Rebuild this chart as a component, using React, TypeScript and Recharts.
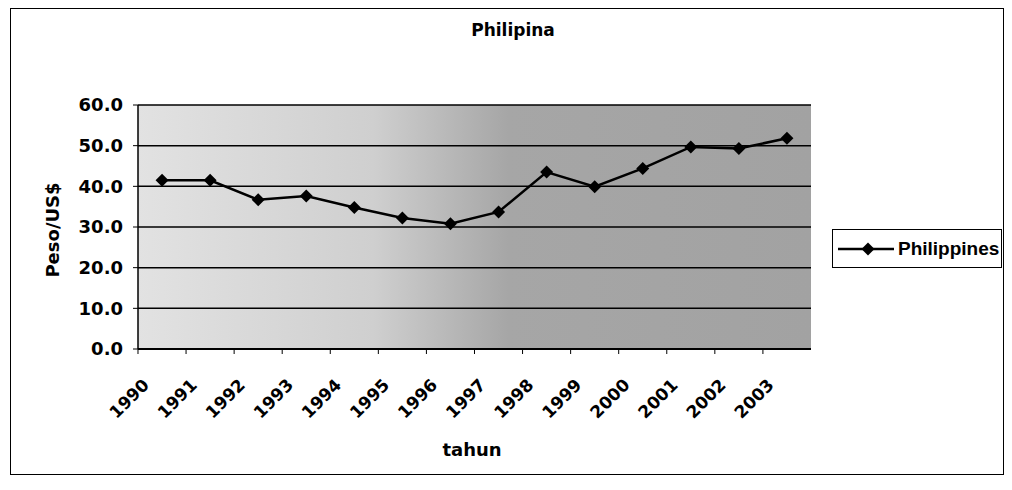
import { LineChart, Line, XAxis, YAxis, CartesianGrid, Legend } from "recharts";

const YEARS = ['1990', '1991', '1992', '1993', '1994', '1995', '1996', '1997', '1998', '1999', '2000', '2001', '2002', '2003'];
const PESO_PER_USD = [41.5, 41.5, 36.7, 37.6, 34.8, 32.2, 30.8, 33.7, 43.5, 39.9, 44.4, 49.7, 49.3, 51.8];
const Y_TICKS = [0, 10, 20, 30, 40, 50, 60];
const SERIES_NAME = 'Philippines';
const TITLE = 'Philipina';
const Y_LABEL = 'Peso/US$';
const X_LABEL = 'tahun';

const data = YEARS.map((year, i) => ({ year, value: PESO_PER_USD[i] }));

const WIDE = '"DejaVu Sans", sans-serif';
const NARROW = '"Liberation Sans", Arial, sans-serif';
const BAND = 48.1; // category width, for the boundary tick marks

function Diamond({ cx, cy, r = 6 }: any) {
  if (cx == null || cy == null) return null;
  return <path d={`M${cx},${cy - r}L${cx + r},${cy}L${cx},${cy + r}L${cx - r},${cy}Z`} fill="#000" />;
}

function YearTick({ x, y, payload }: any) {
  const tx = x - 12;
  const ty = y + 37;
  return (
    <g>
      <line x1={x - BAND / 2} y1={y} x2={x - BAND / 2} y2={y + 5} stroke="#000" strokeWidth={1} />
      <text
        x={tx}
        y={ty}
        transform={`rotate(-45 ${tx} ${ty})`}
        textAnchor="end"
        fontFamily={WIDE}
        fontWeight="bold"
        fontSize={17}
        fill="#000"
      >
        {payload.value}
      </text>
    </g>
  );
}

function LegendBox() {
  return (
    <div
      style={{
        width: 170,
        height: 39,
        boxSizing: 'border-box',
        border: '1.5px solid #000',
        background: '#fff',
        display: 'flex',
        alignItems: 'center',
      }}
    >
      <svg width={64} height={20} style={{ display: 'block' }}>
        <line x1={5} y1={10} x2={61} y2={10} stroke="#000" strokeWidth={2.5} />
        <Diamond cx={35} cy={10} r={6.5} />
      </svg>
      <span style={{ fontFamily: NARROW, fontWeight: 'bold', fontSize: 19, color: '#000', marginLeft: 1 }}>
        {SERIES_NAME}
      </span>
    </div>
  );
}

export default function App() {
  return (
    <div style={{ marginLeft: 2, width: 992, height: 465, border: '1px solid #000', position: 'relative', background: '#fff' }}>
      <LineChart width={992} height={465} data={data} margin={{ top: 96, right: 192, bottom: 0, left: 0 }}>
        <defs>
          <linearGradient id="stipple" x1="0" y1="0" x2="1" y2="0">
            <stop offset="0%" stopColor="#e2e2e2" />
            <stop offset="35%" stopColor="#cfcfcf" />
            <stop offset="55%" stopColor="#a6a6a6" />
            <stop offset="100%" stopColor="#a2a2a2" />
          </linearGradient>
        </defs>
        <text x={502} y={27} textAnchor="middle" fontFamily={WIDE} fontWeight="bold" fontSize={17} fill="#000">
          {TITLE}
        </text>
        <text
          x={48}
          y={221}
          transform="rotate(-90 48 221)"
          textAnchor="middle"
          fontFamily={WIDE}
          fontWeight="bold"
          fontSize={18}
          fill="#000"
        >
          {Y_LABEL}
        </text>
        <text x={461} y={447} textAnchor="middle" fontFamily={WIDE} fontWeight="bold" fontSize={18} fill="#000">
          {X_LABEL}
        </text>
        <CartesianGrid vertical={false} stroke="#000" strokeWidth={1.5} fill="url(#stipple)" fillOpacity={1} />
        <XAxis
          dataKey="year"
          scale="band"
          interval={0}
          height={125}
          tickSize={0}
          tickMargin={0}
          tickLine={false}
          axisLine={{ stroke: '#000', strokeWidth: 2 }}
          tick={<YearTick />}
        />
        <YAxis
          domain={[0, 60]}
          ticks={Y_TICKS}
          width={127}
          tickSize={5}
          tickMargin={10}
          tickFormatter={(v) => Number(v).toFixed(1)}
          axisLine={{ stroke: '#000', strokeWidth: 1.5 }}
          tickLine={{ stroke: '#000' }}
          tick={{ fill: '#000', fontFamily: WIDE, fontWeight: 'bold', fontSize: 18 }}
        />
        <YAxis
          yAxisId="right"
          orientation="right"
          width={0}
          tick={false}
          tickLine={false}
          axisLine={{ stroke: '#000', strokeWidth: 1.5 }}
        />
        <Legend
          layout="horizontal"
          verticalAlign="middle"
          align="center"
          wrapperStyle={{ left: 821, top: 220, width: 170, height: 39 }}
          content={() => <LegendBox />}
        />
        <Line
          type="linear"
          dataKey="value"
          name={SERIES_NAME}
          stroke="#000"
          strokeWidth={2.5}
          dot={(p: any) => <Diamond key={p.index} cx={p.cx} cy={p.cy} r={6.5} />}
          activeDot={false}
          isAnimationActive={false}
        />
      </LineChart>
    </div>
  );
}
